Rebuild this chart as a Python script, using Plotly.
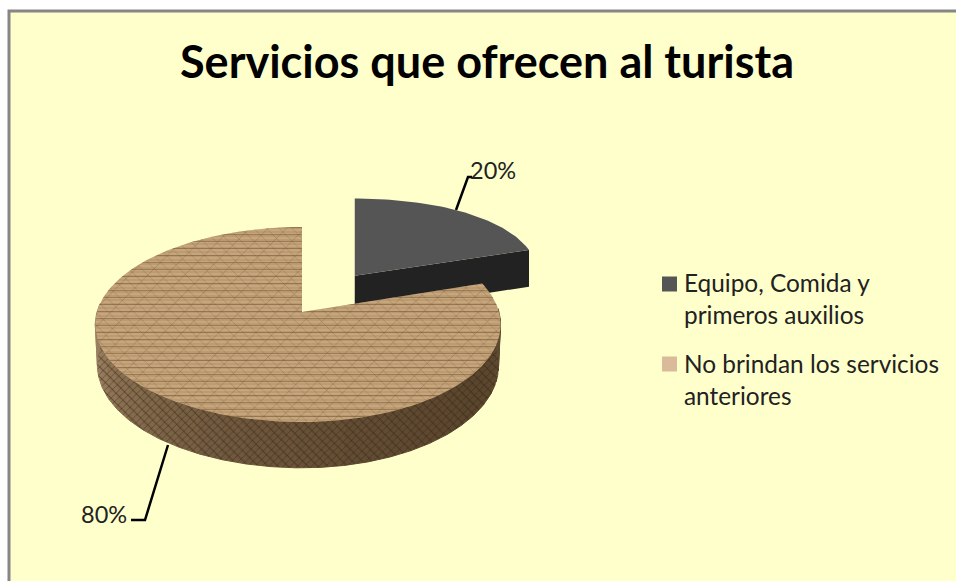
import numpy as np
import plotly.graph_objects as go

# ---- data ----
categories = ["Equipo, Comida y<br>primeros auxilios", "No brindan los servicios<br>anteriores"]
values = [20, 80]
percent_labels = ["20%", "80%"]
title_text = "Servicios que ofrecen al turista"

# ---- projection of the tilted pie onto the 956x581 pixel axes ----
CX, CY = 302, 312
RX_L, RX_R, RY, K = 205, 197, 95.9, 0.128
DEPTH = 40
PULL = 0.49
DARK_X_SCALE = 0.93


def project(u, v, down=0.0, x_scale=None):
    u, v = np.asarray(u, float), np.asarray(v, float)
    s = 1 / (1 + K * v)
    rx = np.where(u < 0, RX_L, RX_R)
    sx = s if x_scale is None else x_scale
    return CX + rx * u * sx, CY - RY * v * s + down * DEPTH * s


fracs = np.array(values) / sum(values) * 2 * np.pi
a0 = np.linspace(0, fracs[0], 60)          # clockwise from 12 o'clock
a1 = np.linspace(fracs[0], 2 * np.pi, 240)
du, dv = PULL * np.sin(fracs[0] / 2), PULL * np.cos(fracs[0] / 2)

fig = go.Figure()


def poly(x, y, color, pattern=None, width=0):
    fig.add_trace(go.Scatter(
        x=np.r_[x, x[0]], y=np.r_[y, y[0]], mode="lines", fill="toself",
        fillcolor=color, line=dict(width=width, color=color), showlegend=False,
        hoverinfo="skip", fillpattern=pattern))


# dark slice: side wall, then top
edge_u = np.r_[du, du + np.sin(fracs[0])]
edge_v = np.r_[dv, dv + np.cos(fracs[0])]
tx, ty = project(edge_u, edge_v, 0, DARK_X_SCALE)
bx, by = project(edge_u, edge_v, 1, DARK_X_SCALE)
poly(np.r_[tx, bx[::-1]], np.r_[ty, by[::-1]], "#222222")
ux, uy = project(np.r_[du, du + np.sin(a0)], np.r_[dv, dv + np.cos(a0)], 0, DARK_X_SCALE)
poly(ux, uy, "#555555")

# brown slice: side wall in shaded strips
side_stops = np.array([[0xa8, 0x8e, 0x6e], [0x8a, 0x70, 0x52], [0x70, 0x59, 0x3e],
                       [0x62, 0x4c, 0x33], [0x5a, 0x45, 0x2d], [0x5e, 0x49, 0x31]], float)
n_strips = 30
span = np.linspace(np.radians(275), np.radians(88), n_strips + 1)
for i in range(n_strips):
    t = i / (n_strips - 1) * (len(side_stops) - 1)
    j = min(int(t), len(side_stops) - 2)
    rgb = side_stops[j] + (side_stops[j + 1] - side_stops[j]) * (t - j)
    c = "rgb(%d,%d,%d)" % tuple(rgb)
    a = np.linspace(span[i], span[i + 1], 6)
    tx, ty = project(np.sin(a), np.cos(a))
    bx, by = project(np.sin(a) * 0.99, np.cos(a), 1)
    poly(np.r_[tx, bx[::-1]], np.r_[ty, by[::-1]], c, width=1)

# crumpled look on the side wall
a = np.linspace(span[0], span[-1], 120)
tx, ty = project(np.sin(a), np.cos(a))
bx, by = project(np.sin(a) * 0.99, np.cos(a), 1)
sx, sy = np.r_[tx, bx[::-1]], np.r_[ty, by[::-1]]
for shape, size, sol, fg in [("/", 5, 0.16, "#2e2010"), ("\\", 7, 0.16, "#2e2010")]:
    poly(sx, sy, "rgba(0,0,0,0)", dict(shape=shape, size=size, solidity=sol, fgcolor=fg, fillmode="overlay"))

# textured top of the brown slice
ux, uy = project(np.r_[0, np.sin(a1)], np.r_[0, np.cos(a1)])
poly(ux, uy, "#bd9b71")
for shape, size, sol, fg in [("-", 4, 0.30, "#dcc09a"), ("-", 7, 0.16, "#6e5230"),
                             ("\\", 9, 0.06, "#6e5230"), ("/", 13, 0.05, "#6e5230")]:
    poly(ux, uy, "rgba(0,0,0,0)", dict(shape=shape, size=size, solidity=sol, fgcolor=fg, fillmode="overlay"))

# leader lines
fig.add_trace(go.Scatter(x=[456, 468, 472], y=[210, 177, 177], mode="lines",
                         line=dict(color="#000000", width=2.5), showlegend=False, hoverinfo="skip"))
fig.add_trace(go.Scatter(x=[168, 145, 131], y=[445, 520, 520], mode="lines",
                         line=dict(color="#000000", width=2.5), showlegend=False, hoverinfo="skip"))

# legend keys and texts
legend_colors = ["#555555", "#d9bb9b"]
for cat, col, key_y, text_y in zip(categories, legend_colors, [284, 364], [298, 379]):
    fig.add_trace(go.Scatter(x=[669.5], y=[key_y], mode="markers", name=cat.replace("<br>", " "),
                             marker=dict(symbol="square", size=15, color=col), showlegend=False, hoverinfo="skip"))
    fig.add_annotation(x=682, y=text_y, text=cat, showarrow=False, xanchor="left", align="left",
                       font=dict(family="Lato", size=24.4, color="#222222"))

fig.add_annotation(x=493, y=170, text=percent_labels[0], showarrow=False,
                   font=dict(family="Lato", size=23.5, color="#222222"))
fig.add_annotation(x=104, y=514, text=percent_labels[1], showarrow=False,
                   font=dict(family="Lato", size=23.5, color="#222222"))
fig.add_annotation(x=487, y=61, text=f"<b>{title_text}</b>", showarrow=False,
                   font=dict(family="Lato", size=45, color="#000000"))

fig.update_layout(
    width=956, height=581, margin=dict(l=0, r=0, t=0, b=0), showlegend=False,
    paper_bgcolor="#ffffff", plot_bgcolor="#ffffff",
    xaxis=dict(range=[0, 956], visible=False, fixedrange=True),
    yaxis=dict(range=[581, 0], visible=False, fixedrange=True),
    shapes=[dict(type="rect", xref="x", yref="y", x0=9, y0=11, x1=1000, y1=620,
                 fillcolor="#FFFFCC", line=dict(color="#868686", width=3), layer="below")],
)
fig.write_html("out.html", config=dict(displayModeBar=False),
               post_script="document.body.style.margin='0';document.body.style.overflow='hidden';")
